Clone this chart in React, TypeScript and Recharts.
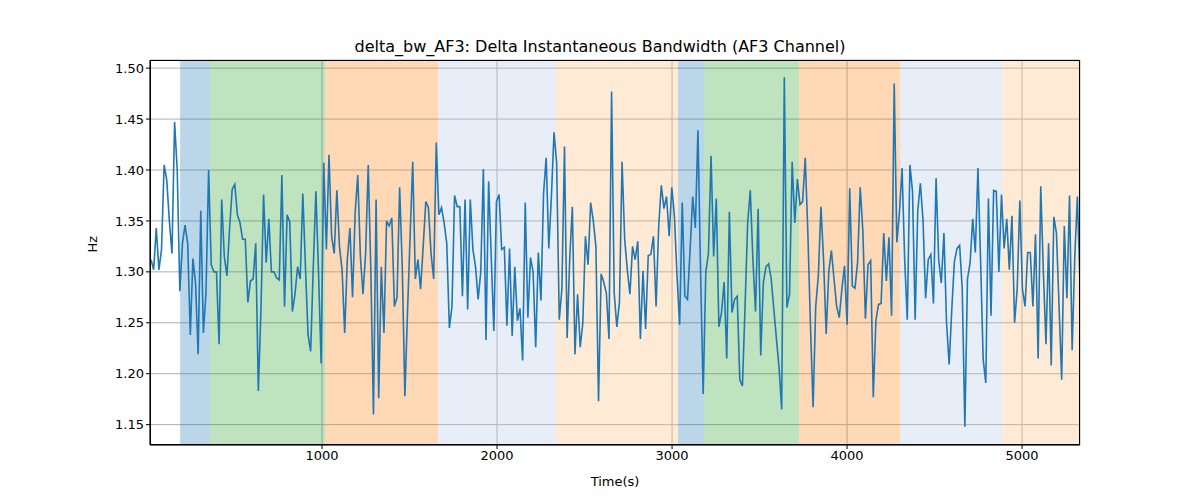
import React from "react";
import { CartesianGrid, Line, LineChart, ReferenceArea, XAxis, YAxis, Label } from "recharts";

const values: number[] = [
  1.312, 1.302, 1.343, 1.302, 1.322, 1.405, 1.39, 1.35, 1.318, 1.447, 1.40, 1.281, 1.328, 1.346, 1.328, 1.238,
  1.313, 1.289, 1.219, 1.36, 1.24, 1.28, 1.40, 1.307, 1.30, 1.30, 1.229, 1.371, 1.315, 1.296, 1.342, 1.381,
  1.386, 1.356, 1.348, 1.332, 1.332, 1.27, 1.291, 1.293, 1.328, 1.183, 1.263, 1.376, 1.309, 1.352, 1.30, 1.30,
  1.294, 1.292, 1.395, 1.266, 1.356, 1.349, 1.261, 1.278, 1.305, 1.293, 1.377,
  1.305, 1.238, 1.222, 1.305, 1.379, 1.30, 1.21, 1.407, 1.322, 1.415, 1.335, 1.318, 1.38, 1.325, 1.302, 1.24,
  1.312, 1.343, 1.275, 1.358, 1.395, 1.315, 1.278, 1.318, 1.405, 1.30, 1.16, 1.371, 1.176, 1.305, 1.24, 1.35,
  1.345, 1.353, 1.266, 1.275, 1.383, 1.305, 1.178, 1.26, 1.335, 1.408, 1.293, 1.312, 1.283, 1.325, 1.369, 1.363,
  1.318, 1.293, 1.427, 1.356, 1.363, 1.348, 1.328, 1.245, 1.266, 1.375, 1.364,
  1.364, 1.276, 1.371, 1.263, 1.371, 1.322, 1.305, 1.273, 1.30, 1.401, 1.233, 1.389, 1.315, 1.242, 1.369, 1.376,
  1.322, 1.324, 1.247, 1.323, 1.237, 1.305, 1.252, 1.264, 1.213, 1.368, 1.255, 1.314, 1.30, 1.226, 1.319, 1.272,
  1.377, 1.412, 1.323, 1.374, 1.437, 1.407, 1.253, 1.283, 1.423, 1.235, 1.313, 1.364, 1.219, 1.278, 1.226, 1.25,
  1.335, 1.307, 1.368, 1.35, 1.325, 1.173, 1.298, 1.29, 1.279, 1.234, 1.477,
  1.279, 1.246, 1.27, 1.408, 1.332, 1.302, 1.278, 1.325, 1.312, 1.33, 1.234, 1.301, 1.244, 1.316, 1.317, 1.335,
  1.266, 1.345, 1.385, 1.362, 1.374, 1.335, 1.383, 1.355, 1.296, 1.248, 1.368, 1.276, 1.273, 1.322, 1.374, 1.343,
  1.439, 1.30, 1.18, 1.30, 1.318, 1.414, 1.315, 1.372, 1.246, 1.26, 1.29, 1.215, 1.359, 1.26, 1.273, 1.276,
  1.194, 1.188, 1.266, 1.348, 1.38, 1.312, 1.261, 1.362, 1.218, 1.29, 1.305, 1.308,
  1.293, 1.263, 1.234, 1.206, 1.165, 1.491, 1.265, 1.278, 1.408, 1.348, 1.391, 1.366, 1.369, 1.412, 1.338, 1.247,
  1.167, 1.266, 1.296, 1.364, 1.312, 1.239, 1.30, 1.321, 1.293, 1.266, 1.255, 1.283, 1.306, 1.248, 1.382, 1.286,
  1.284, 1.309, 1.383, 1.341, 1.254, 1.307, 1.311, 1.177, 1.252, 1.268, 1.269, 1.338, 1.291, 1.334, 1.257, 1.485,
  1.329, 1.358, 1.402, 1.312, 1.253, 1.405, 1.379, 1.253, 1.36, 1.387,
  1.351, 1.274, 1.312, 1.317, 1.269, 1.392, 1.312, 1.289, 1.338, 1.25, 1.209, 1.263, 1.31, 1.323, 1.326, 1.283,
  1.148, 1.293, 1.309, 1.352, 1.319, 1.402, 1.312, 1.214, 1.191, 1.372, 1.257, 1.38, 1.379, 1.30, 1.376, 1.323,
  1.352, 1.302, 1.355, 1.25, 1.283, 1.37, 1.283, 1.266, 1.319, 1.319, 1.266, 1.337, 1.215, 1.384, 1.30, 1.229,
  1.328, 1.208, 1.354, 1.338, 1.266, 1.194, 1.345, 1.274, 1.375, 1.223, 1.314, 1.374, 1.289,
];
const tStart = 23;
const tEnd = 5331;

const segStarts = [189, 360, 1017, 1663, 2337, 3034, 3183, 3726, 4303, 4886];
const segEnds = [360, 1017, 1663, 2337, 3034, 3183, 3726, 4303, 4886, 5331];
const segColors = ["#1f77b4", "#2ca02c", "#ff7f0e", "#aec7e8", "#ffbb78", "#1f77b4", "#2ca02c", "#ff7f0e", "#aec7e8", "#ffbb78"];

const xTicks = [1000, 2000, 3000, 4000, 5000];
const yTicks = [1.15, 1.2, 1.25, 1.3, 1.35, 1.4, 1.45, 1.5];

const step = (tEnd - tStart) / (values.length - 1);
const data = values.map((v, i) => ({ t: tStart + i * step, v }));

const font = "DejaVu Sans, sans-serif";

export default function App() {
  return (
    <div style={{ position: "absolute", left: 0, top: 0, width: 1200, height: 500, background: "#fff", fontFamily: font }}>
      <div style={{ position: "absolute", top: 37, width: 1200, textAlign: "center", fontSize: 16, color: "#000" }}>
        delta_bw_AF3: Delta Instantaneous Bandwidth (AF3 Channel)
      </div>
      <LineChart width={1200} height={500} data={data} margin={{ top: 60, right: 120, bottom: 25, left: 0 }}>
        {segStarts.map((s, i) => (
          <ReferenceArea key={i} x1={s} x2={segEnds[i]} fill={segColors[i]} fillOpacity={0.3} stroke="none" />
        ))}
        <CartesianGrid stroke="#b0b0b0" strokeWidth={1} />
        <XAxis
          dataKey="t"
          type="number"
          domain={[17, 5331]}
          ticks={xTicks}
          allowDataOverflow
          stroke="#000"
          tick={{ fill: "#000", fontSize: 13, fontFamily: font }}
          tickSize={4}
        >
          <Label value="Time(s)" position="insideBottom" offset={-11} style={{ fill: "#000", fontSize: 13, fontFamily: font }} />
        </XAxis>
        <YAxis
          type="number"
          domain={[1.13, 1.508]}
          ticks={yTicks}
          allowDataOverflow
          width={150}
          stroke="#000"
          tickFormatter={(v: number) => v.toFixed(2)}
          tick={{ fill: "#000", fontSize: 13, fontFamily: font }}
          tickSize={4}
        >
          <Label value="Hz" angle={-90} position="insideLeft" offset={92} style={{ fill: "#000", fontSize: 13, fontFamily: font }} />
        </YAxis>
        <Line type="linear" dataKey="v" stroke="#1f77b4" strokeWidth={1.6} dot={false} isAnimationActive={false} />
      </LineChart>
      <div style={{ position: "absolute", left: 150, top: 60, width: 930, height: 385, boxSizing: "border-box", border: "1px solid #000", pointerEvents: "none" }} />
    </div>
  );
}
